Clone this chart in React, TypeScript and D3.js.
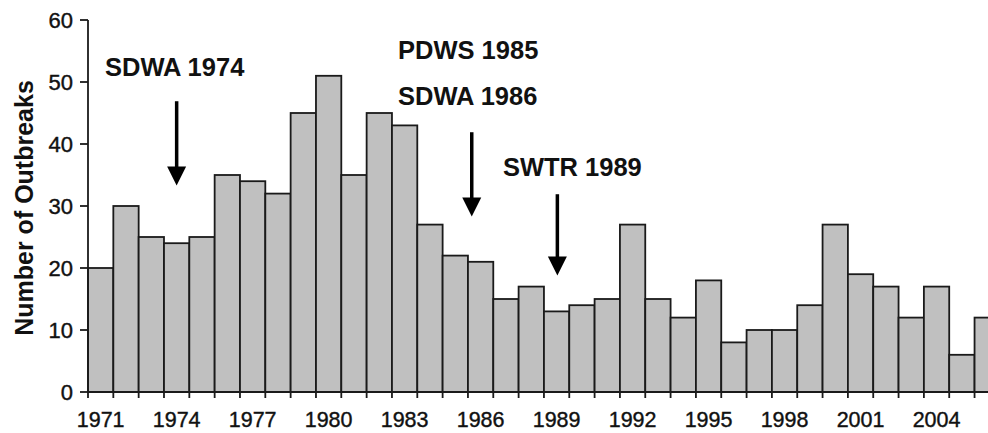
import React, { useEffect, useRef } from "react";
import * as d3 from "d3";

const years = [
  "1971", "1972", "1973", "1974", "1975", "1976", "1977", "1978", "1979", "1980",
  "1981", "1982", "1983", "1984", "1985", "1986", "1987", "1988", "1989", "1990",
  "1991", "1992", "1993", "1994", "1995", "1996", "1997", "1998", "1999", "2000",
  "2001", "2002", "2003", "2004", "2005", "2006",
];
const outbreaks = [
  20, 30, 25, 24, 25, 35, 34, 32, 45, 51,
  35, 45, 43, 27, 22, 21, 15, 17, 13, 14,
  15, 27, 15, 12, 18, 8, 10, 10, 14, 27,
  19, 17, 12, 17, 6, 12,
];
const yTicks = [0, 10, 20, 30, 40, 50, 60];
const xTickLabels = ["1971", "1974", "1977", "1980", "1983", "1986", "1989", "1992", "1995", "1998", "2001", "2004"];

// position = fractional bar index, heights in outbreak units
const annotations = [
  { label: "SDWA 1974", textAt: 0.67, textY: 50.9 },
  { label: "PDWS 1985", textAt: 12.24, textY: 53.7 },
  { label: "SDWA 1986", textAt: 12.24, textY: 46.3 },
  { label: "SWTR 1989", textAt: 16.38, textY: 34.8 },
];
const arrows = [
  { at: 3.5, from: 46.9, to: 33.3 },
  { at: 15.15, from: 41.9, to: 28.3 },
  { at: 18.53, from: 31.9, to: 18.8 },
];

const font = "'Liberation Sans', Arial, sans-serif";

const OutbreakChart = () => {
  const ref = useRef<SVGSVGElement>(null);

  useEffect(() => {
    const svg = d3.select(ref.current);
    svg.selectAll("*").remove();

    const width = 988, height = 433;
    const left = 88, bottom = 392, top = 20, step = 25.33;
    svg.attr("width", width).attr("height", height);

    const x = d3.scaleBand().domain(years).range([left, left + step * years.length]).padding(0);
    const xi = d3.scaleLinear().domain([0, years.length]).range([left, left + step * years.length]);
    const y = d3.scaleLinear().domain([0, 60]).range([bottom, top]);

    svg.append("rect").attr("width", width).attr("height", height).attr("fill", "#fff");

    // bars
    svg.append("g")
      .selectAll("rect")
      .data(years)
      .join("rect")
      .attr("x", (d) => x(d)!)
      .attr("y", (d, i) => y(outbreaks[i]))
      .attr("width", x.bandwidth())
      .attr("height", (d, i) => y(0) - y(outbreaks[i]))
      .attr("fill", "#c0c0c0")
      .attr("stroke", "#1a1a1a")
      .attr("stroke-width", 1.8);

    // y axis
    const yAxis = svg.append("g");
    yAxis.append("line")
      .attr("x1", left).attr("x2", left)
      .attr("y1", y(60)).attr("y2", y(0))
      .attr("stroke", "#1a1a1a").attr("stroke-width", 1.8);
    yAxis.selectAll("line.tick")
      .data(yTicks)
      .join("line")
      .attr("class", "tick")
      .attr("x1", left - 8).attr("x2", left)
      .attr("y1", (d) => y(d)).attr("y2", (d) => y(d))
      .attr("stroke", "#1a1a1a").attr("stroke-width", 1.8);
    yAxis.selectAll("text")
      .data(yTicks)
      .join("text")
      .attr("x", left - 15)
      .attr("y", (d) => y(d))
      .attr("dy", "0.37em")
      .attr("text-anchor", "end")
      .attr("font-family", font)
      .attr("font-size", "22px")
      .attr("fill", "#111")
      .attr("stroke", "#111")
      .attr("stroke-width", 0.4)
      .text((d) => d);

    // x axis
    const xAxis = svg.append("g");
    xAxis.append("line")
      .attr("x1", left).attr("x2", width)
      .attr("y1", bottom).attr("y2", bottom)
      .attr("stroke", "#1a1a1a").attr("stroke-width", 1.8);
    xAxis.selectAll("line.tick")
      .data(years)
      .join("line")
      .attr("class", "tick")
      .attr("x1", (d) => x(d)!).attr("x2", (d) => x(d)!)
      .attr("y1", bottom).attr("y2", bottom + 6)
      .attr("stroke", "#1a1a1a").attr("stroke-width", 1.8);
    xAxis.selectAll("text")
      .data(xTickLabels)
      .join("text")
      .attr("x", (d) => x(d)! + x.bandwidth() / 2)
      .attr("y", 427)
      .attr("text-anchor", "middle")
      .attr("font-family", font)
      .attr("font-size", "21.5px")
      .attr("fill", "#111")
      .attr("stroke", "#111")
      .attr("stroke-width", 0.4)
      .text((d) => d);

    // y axis title
    svg.append("text")
      .attr("transform", `translate(33, ${(y(60) + y(0)) / 2 + 2}) rotate(-90)`)
      .attr("text-anchor", "middle")
      .attr("font-family", font)
      .attr("font-weight", "bold")
      .attr("font-size", "25px")
      .attr("fill", "#111")
      .text("Number of Outbreaks");

    // annotations
    svg.append("g")
      .selectAll("text")
      .data(annotations)
      .join("text")
      .attr("x", (d) => xi(d.textAt))
      .attr("y", (d) => y(d.textY))
      .attr("font-family", font)
      .attr("font-weight", "bold")
      .attr("font-size", "25.5px")
      .attr("fill", "#111")
      .text((d) => d.label);

    const arrowG = svg.append("g").selectAll("g").data(arrows).join("g");
    arrowG.append("line")
      .attr("x1", (d) => xi(d.at)).attr("x2", (d) => xi(d.at))
      .attr("y1", (d) => y(d.from)).attr("y2", (d) => y(d.to) - 12)
      .attr("stroke", "#000").attr("stroke-width", 3.5);
    arrowG.append("path")
      .attr("d", (d) => {
        const cx = xi(d.at), ty = y(d.to);
        return `M${cx - 9.5},${ty - 19}L${cx + 9.5},${ty - 19}L${cx},${ty}Z`;
      })
      .attr("fill", "#000");
  }, []);

  return <svg ref={ref} style={{ position: "absolute", left: 0, top: 0 }} />;
};

export default function App() {
  return <OutbreakChart />;
}
